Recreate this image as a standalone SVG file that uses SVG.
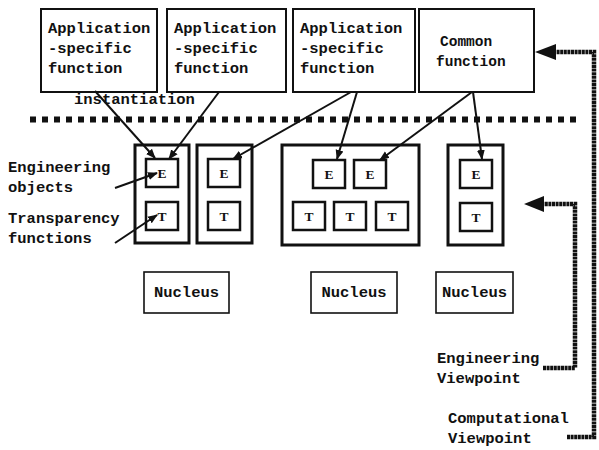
<svg xmlns="http://www.w3.org/2000/svg" width="599" height="450" viewBox="0 0 599 450">
<defs>
<style>
.t{font-family:"Liberation Mono","DejaVu Sans Mono",monospace;font-size:15.5px;font-weight:bold;fill:#111}
.s{font-family:"Liberation Serif","DejaVu Serif",serif;font-size:13.5px;font-weight:bold;fill:#111;text-anchor:middle}
.box{fill:#fff;stroke:#111;stroke-width:2}
.cont{fill:#fff;stroke:#111;stroke-width:3}
.small{fill:#fff;stroke:#111;stroke-width:2.5}
.nuc{fill:#fff;stroke:#111;stroke-width:1.6}
.ln{stroke:#111;stroke-width:2;fill:none;marker-end:url(#ah)}
.vp{stroke:#111;stroke-width:4.5;fill:none;stroke-dasharray:3 0.6}
</style>
<marker id="ah" viewBox="0 0 10 10" refX="9" refY="5" markerWidth="5" markerHeight="5" orient="auto" markerUnits="strokeWidth">
<path d="M0,1 L10,5 L0,9 z" fill="#111"/>
</marker>
</defs>
<rect width="599" height="450" fill="#fff"/>

<g id="app1"><rect class="box" x="41" y="9" width="116" height="83"/>
<text class="t" x="48" y="33">Application</text><text class="t" x="48" y="53">-specific</text><text class="t" x="48" y="73">function</text></g>
<g id="app2"><rect class="box" x="167" y="9" width="119" height="83"/>
<text class="t" x="174" y="33">Application</text><text class="t" x="174" y="53">-specific</text><text class="t" x="174" y="73">function</text></g>
<g id="app3"><rect class="box" x="293" y="9" width="122" height="83"/>
<text class="t" x="300" y="33">Application</text><text class="t" x="300" y="53">-specific</text><text class="t" x="300" y="73">function</text></g>
<g id="common"><rect class="box" x="419" y="9" width="115" height="83"/>
<text class="t" style="font-size:14.5px" x="440" y="46">Common</text><text class="t" style="font-size:14.5px" x="436" y="66">function</text></g>

<g id="instantiation"><text class="t" x="74" y="104">instantiation</text></g>

<g id="separator"><line x1="30" y1="119.5" x2="576" y2="119.5" stroke="#111" stroke-width="6" stroke-dasharray="6 6"/></g>

<g id="cluster1"><rect class="cont" x="135" y="145" width="54" height="98"/>
<rect class="small" x="146" y="159" width="32" height="28"/><text class="s" x="162" y="178">E</text>
<rect class="small" x="146" y="202" width="32" height="28"/><text class="s" x="162" y="221">T</text></g>
<g id="cluster2"><rect class="cont" x="197" y="145" width="55" height="98"/>
<rect class="small" x="208" y="159" width="32" height="28"/><text class="s" x="224" y="178">E</text>
<rect class="small" x="208" y="202" width="32" height="28"/><text class="s" x="224" y="221">T</text></g>
<g id="cluster3"><rect class="cont" x="282" y="145" width="137" height="100"/>
<rect class="small" x="313" y="160" width="32" height="28"/><text class="s" x="329" y="179">E</text>
<rect class="small" x="354" y="160" width="32" height="28"/><text class="s" x="370" y="179">E</text>
<rect class="small" x="293" y="202" width="32" height="28"/><text class="s" x="309" y="221">T</text>
<rect class="small" x="334" y="202" width="32" height="28"/><text class="s" x="350" y="221">T</text>
<rect class="small" x="376" y="202" width="32" height="28"/><text class="s" x="392" y="221">T</text></g>
<g id="cluster4"><rect class="cont" x="448" y="145" width="55" height="100"/>
<rect class="small" x="460" y="160" width="32" height="28"/><text class="s" x="476" y="179">E</text>
<rect class="small" x="460" y="203" width="32" height="28"/><text class="s" x="476" y="222">T</text></g>

<g id="nucleus1"><rect class="nuc" x="144" y="272" width="85" height="41"/><text class="t" x="186.5" y="297" text-anchor="middle">Nucleus</text></g>
<g id="nucleus2"><rect class="nuc" x="311" y="272" width="86" height="41"/><text class="t" x="354" y="297" text-anchor="middle">Nucleus</text></g>
<g id="nucleus3"><rect class="nuc" x="436" y="272" width="77" height="41"/><text class="t" x="474.5" y="297" text-anchor="middle">Nucleus</text></g>

<g id="labels">
<text class="t" x="8" y="172">Engineering</text><text class="t" x="8" y="192">objects</text>
<text class="t" x="8" y="223">Transparency</text><text class="t" x="8" y="243">functions</text>
<text class="t" x="437" y="363">Engineering</text><text class="t" x="437" y="383">Viewpoint</text>
<text class="t" x="448" y="423">Computational</text><text class="t" x="448" y="443">Viewpoint</text>
</g>

<g id="connectors">
<line class="ln" x1="95" y1="91" x2="155" y2="158"/>
<line class="ln" x1="219" y1="92" x2="169" y2="159"/>
<line class="ln" x1="351" y1="92" x2="233" y2="159"/>
<line class="ln" x1="357" y1="92" x2="337" y2="159"/>
<line class="ln" x1="472" y1="92" x2="380" y2="160"/>
<line class="ln" x1="473" y1="92" x2="482" y2="159"/>
<line class="ln" x1="115" y1="188" x2="157" y2="173"/>
<line class="ln" x1="115" y1="243" x2="157" y2="215"/>
<polyline class="vp" points="567,437 594,437 594,52 554,52"/>
<path d="M535,52 L556,44 L556,60 z" fill="#111"/>
<polyline class="vp" points="543,368 575,368 575,204 542,204"/>
<path d="M524,204 L544,196 L544,212 z" fill="#111"/>
</g>
</svg>
